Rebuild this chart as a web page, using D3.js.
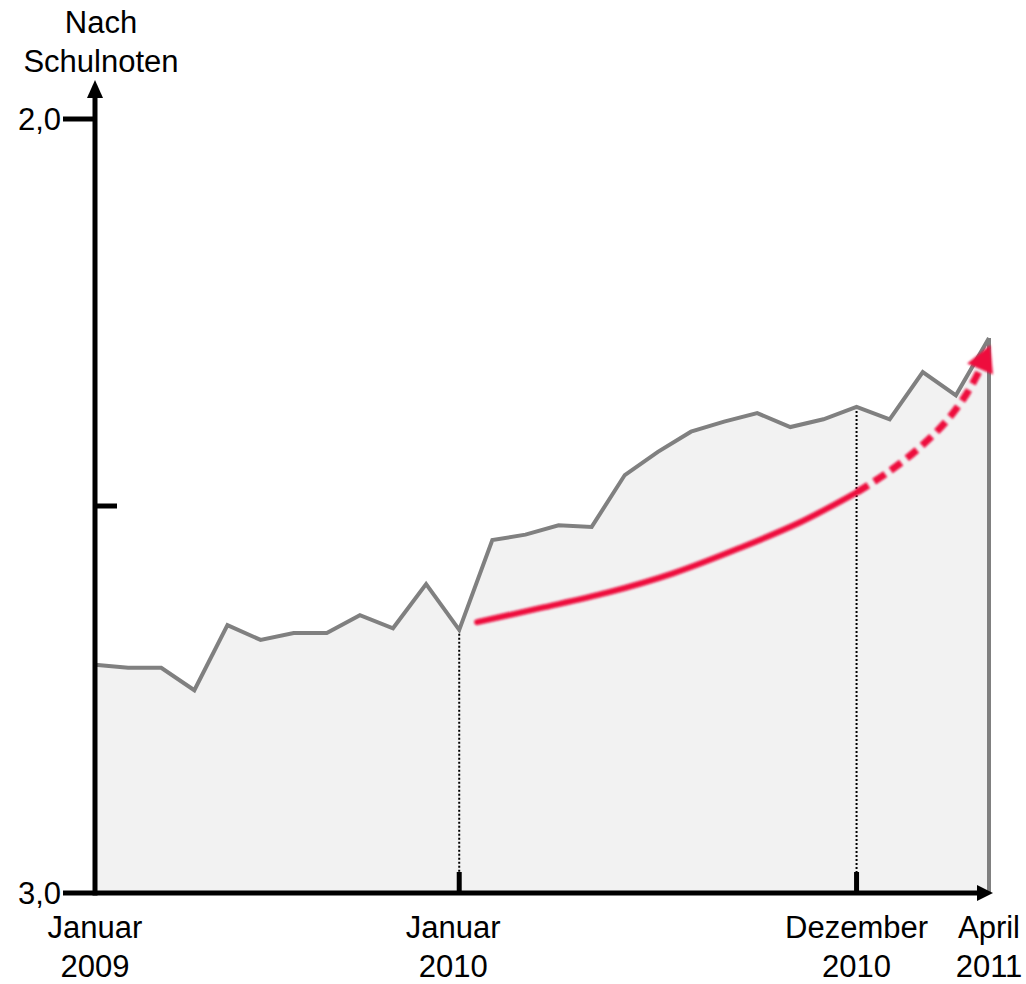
<!DOCTYPE html>
<html>
<head>
<meta charset="utf-8">
<script src="https://cdn.jsdelivr.net/npm/d3@7"></script>
<style>
  html, body { margin: 0; padding: 0; background: #fff; }
  svg { display: block; }
  text { font-family: "Liberation Sans", Arial, sans-serif; fill: #000; }
</style>
</head>
<body>
<svg id="chart" width="1026" height="984"></svg>
<script>
// Monthly grade average (German school grades, lower is better)
const gradeValues = [
  2.705, 2.709, 2.709, 2.738, 2.654, 2.673, 2.664, 2.664, 2.641, 2.658, 2.601, 2.660,
  2.544, 2.537, 2.525, 2.527, 2.460, 2.430, 2.404, 2.391, 2.380, 2.398, 2.388, 2.372,
  2.388, 2.327, 2.357, 2.283
];

// Trend arrow: [month index, grade]
const trendSolid = [
  [11.54, 2.650], [13.44, 2.632], [15.47, 2.612], [17.46, 2.587],
  [19.49, 2.554], [21.30, 2.521], [23.02, 2.482]
];
const trendDashed = [
  [23.02, 2.482], [23.93, 2.457], [24.92, 2.424], [25.74, 2.389],
  [26.34, 2.354], [26.70, 2.326], [27.04, 2.292]
];

const yTickValues = [2.0, 2.5, 3.0];
const yTickLabels = ["2,0", "", "3,0"];
const yAxisTitle = ["Nach", "Schulnoten"];

const xLabelIndex = [0, 11, 23, 27];
const xLabels = [["Januar", "2009"], ["Januar", "2010"], ["Dezember", "2010"], ["April", "2011"]];
const xMarkerIndex = [11, 23];

const svg = d3.select("#chart");
const fontSize = 31;

const x = d3.scaleLinear().domain([0, gradeValues.length - 1]).range([95, 989]);
const y = d3.scaleLinear().domain([3, 2]).range([893, 119]);

const defs = svg.append("defs");
defs.append("filter").attr("id", "soft")
  .attr("x", "-5%").attr("y", "-20%").attr("width", "110%").attr("height", "140%")
  .append("feGaussianBlur").attr("stdDeviation", 0.8);

// Shaded area under the grade line
const area = d3.area()
  .x((d, i) => x(i))
  .y0(y(3))
  .y1(d => y(d));
svg.append("path")
  .datum(gradeValues)
  .attr("d", area)
  .attr("fill", "#f2f2f2");

// Dotted guides at the marked months
svg.selectAll(".guide")
  .data(xMarkerIndex)
  .join("line")
  .attr("class", "guide")
  .attr("x1", d => x(d)).attr("x2", d => x(d))
  .attr("y1", d => y(gradeValues[d]))
  .attr("y2", y(3) - 20)
  .attr("stroke", "#000")
  .attr("stroke-width", 2)
  .attr("stroke-dasharray", "2,2");

// Grade line
const line = d3.line()
  .x((d, i) => x(i))
  .y(d => y(d));
svg.append("path")
  .datum(gradeValues)
  .attr("d", line)
  .attr("fill", "none")
  .attr("stroke", "#808080")
  .attr("stroke-width", 4)
  .attr("stroke-linejoin", "miter");

// Right edge of the shaded area
const lastIdx = gradeValues.length - 1;
svg.append("line")
  .attr("x1", x(lastIdx)).attr("x2", x(lastIdx))
  .attr("y1", y(gradeValues[lastIdx])).attr("y2", y(3))
  .attr("stroke", "#808080")
  .attr("stroke-width", 4);

// Trend arrow
const red = "#ee0a3d";
const trendLine = d3.line()
  .x(d => x(d[0]))
  .y(d => y(d[1]))
  .curve(d3.curveCatmullRom);

const trendGroup = svg.append("g").attr("filter", "url(#soft)");
trendGroup.append("path")
  .datum(trendSolid)
  .attr("d", trendLine)
  .attr("fill", "none")
  .attr("stroke", red)
  .attr("stroke-width", 6)
  .attr("stroke-linecap", "round");

trendGroup.append("path")
  .datum(trendDashed.slice(0, -1))
  .attr("d", trendLine)
  .attr("fill", "none")
  .attr("stroke", red)
  .attr("stroke-width", 7)
  .attr("stroke-dasharray", "13,7");

// Arrowhead at the end of the trend
{
  const tip = trendDashed[trendDashed.length - 1];
  const prev = trendDashed[trendDashed.length - 2];
  const tx = x(tip[0]), ty = y(tip[1]);
  const px = x(prev[0]), py = y(prev[1]);
  const len = Math.hypot(tx - px, ty - py);
  const ux = (tx - px) / len, uy = (ty - py) / len;
  const headLen = 26, halfW = 14;
  const bx = tx - ux * headLen, by = ty - uy * headLen;
  const pts = [
    [tx, ty],
    [bx - uy * halfW, by + ux * halfW],
    [bx + uy * halfW, by - ux * halfW]
  ];
  trendGroup.append("path")
    .attr("d", "M" + pts.map(p => p.join(",")).join("L") + "Z")
    .attr("fill", red);
}

// Axes
const axisColor = "#000";
const axisW = 5;
svg.append("line")
  .attr("x1", x(0)).attr("x2", x(0))
  .attr("y1", y(3) + axisW / 2).attr("y2", 96)
  .attr("stroke", axisColor).attr("stroke-width", axisW);
svg.append("path")
  .attr("d", `M${x(0)},80 L${x(0) - 8},98 L${x(0) + 8},98 Z`)
  .attr("fill", axisColor);

svg.append("line")
  .attr("x1", x(0)).attr("x2", 978)
  .attr("y1", y(3)).attr("y2", y(3))
  .attr("stroke", axisColor).attr("stroke-width", axisW);
svg.append("path")
  .attr("d", `M993,${y(3)} L977,${y(3) - 8} L977,${y(3) + 8} Z`)
  .attr("fill", axisColor);

// Y ticks: labelled ticks point outward, the unlabelled one inward
svg.selectAll(".ytick")
  .data(yTickValues)
  .join("line")
  .attr("class", "ytick")
  .attr("x1", (d, i) => yTickLabels[i] ? 63 : x(0) + 22)
  .attr("x2", x(0))
  .attr("y1", d => y(d)).attr("y2", d => y(d))
  .attr("stroke", axisColor).attr("stroke-width", axisW);

svg.selectAll(".ylabel")
  .data(yTickValues)
  .join("text")
  .attr("class", "ylabel")
  .attr("x", 61)
  .attr("y", d => y(d) + 11)
  .attr("text-anchor", "end")
  .attr("font-size", fontSize)
  .text((d, i) => yTickLabels[i]);

svg.selectAll(".ytitle")
  .data(yAxisTitle)
  .join("text")
  .attr("class", "ytitle")
  .attr("x", 101)
  .attr("y", (d, i) => 33 + i * 39)
  .attr("text-anchor", "middle")
  .attr("font-size", fontSize)
  .text(d => d);

// X ticks at the marked months
svg.selectAll(".xtick")
  .data(xMarkerIndex)
  .join("line")
  .attr("class", "xtick")
  .attr("x1", d => x(d)).attr("x2", d => x(d))
  .attr("y1", y(3) - 21).attr("y2", y(3))
  .attr("stroke", axisColor).attr("stroke-width", axisW);

// X labels (two lines each)
const xl = svg.selectAll(".xlabel")
  .data(xLabelIndex)
  .join("text")
  .attr("class", "xlabel")
  .attr("text-anchor", "middle")
  .attr("font-size", fontSize);
xl.each(function(d, i) {
  const t = d3.select(this);
  xLabels[i].forEach((s, k) => {
    t.append("tspan")
      .attr("x", x(d) - (i === 1 ? 6 : 0))
      .attr("y", 938 + k * 39)
      .text(s);
  });
});
</script>
</body>
</html>
